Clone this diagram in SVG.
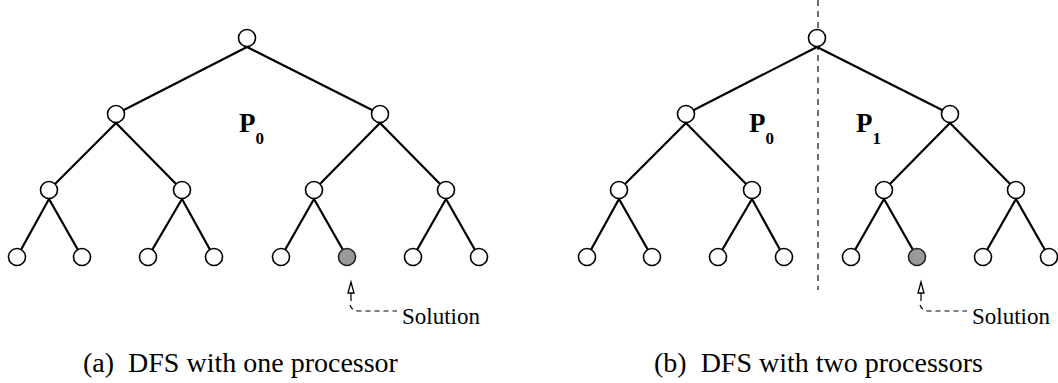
<svg xmlns="http://www.w3.org/2000/svg" width="1058" height="383" viewBox="0 0 1058 383">
<style>
.e{stroke:#000;stroke-width:2.2;fill:none}
.n{fill:#fff;stroke:#000;stroke-width:1.6}
.s{fill:#999;stroke:#222;stroke-width:1.6}
.t{font-family:"Liberation Serif","Times New Roman",serif;fill:#000}
.p{font-family:"Liberation Serif","Times New Roman",serif;font-weight:bold;fill:#000;font-size:27px}
.sub{font-size:17px}
.a{stroke:#000;stroke-width:1.2;fill:none}
</style>
<defs>
<g id="tree">
<g class="conn">
<path class="e" d="M0,47 L-131,114 M0,47 L133,114"/>
<path class="e" d="M-131,123 L-198,190 M-131,123 L-65,190 M133,123 L67,190 M133,123 L199,190"/>
<path class="e" d="M-198,199 L-230,257 M-198,199 L-165,257 M-65,199 L-99,257 M-65,199 L-33,257 M67,199 L34,257 M67,199 L100,257 M199,199 L166,257 M199,199 L232,257"/>
</g>
<circle class="n" cx="0" cy="38" r="8.5"/>
<circle class="n" cx="-131" cy="114" r="8.5"/>
<circle class="n" cx="133" cy="114" r="8.5"/>
<circle class="n" cx="-198" cy="190" r="8.5"/>
<circle class="n" cx="-65" cy="190" r="8.5"/>
<circle class="n" cx="67" cy="190" r="8.5"/>
<circle class="n" cx="199" cy="190" r="8.5"/>
<circle class="n" cx="-230" cy="257" r="8.5"/>
<circle class="n" cx="-165" cy="257" r="8.5"/>
<circle class="n" cx="-99" cy="257" r="8.5"/>
<circle class="n" cx="-33" cy="257" r="8.5"/>
<circle class="n" cx="34" cy="257" r="8.5"/>
<circle class="s" cx="100" cy="257" r="8.5"/>
<circle class="n" cx="166" cy="257" r="8.5"/>
<circle class="n" cx="232" cy="257" r="8.5"/>
</g>
<g id="sol">
<path class="a" d="M0,289 L0,301"/>
<path d="M-3,293 L0,282 L3,293 Z" fill="#fff" stroke="#000" stroke-width="1.3"/>
<path class="a" d="M-1,305 Q1,311 8,311 L46,311" stroke-dasharray="5 4"/>
<text class="t" x="51" y="324" font-size="23">Solution</text>
</g>
</defs>

<g id="tree-a">
<use href="#tree" transform="translate(247,0)"/>
<text class="p" x="239" y="132">P<tspan class="sub" dy="12">0</tspan></text>
</g>
<g id="solution-a"><use href="#sol" transform="translate(351,0)"/></g>

<g id="divider">
<line x1="818" y1="0" x2="818" y2="290" stroke="#6c6c7c" stroke-width="2" stroke-dasharray="6 5"/>
</g>
<g id="tree-b">
<use href="#tree" transform="translate(817,0)"/>
<text class="p" x="749" y="132">P<tspan class="sub" dy="12">0</tspan></text>
<text class="p" x="856" y="132">P<tspan class="sub" dy="12">1</tspan></text>
</g>
<g id="solution-b"><use href="#sol" transform="translate(921,0)"/></g>

<text class="t" x="83" y="372" font-size="28" xml:space="preserve">(a)  DFS with one processor</text>
<text class="t" x="654" y="372" font-size="28" xml:space="preserve">(b)  DFS with two processors</text>
</svg>
